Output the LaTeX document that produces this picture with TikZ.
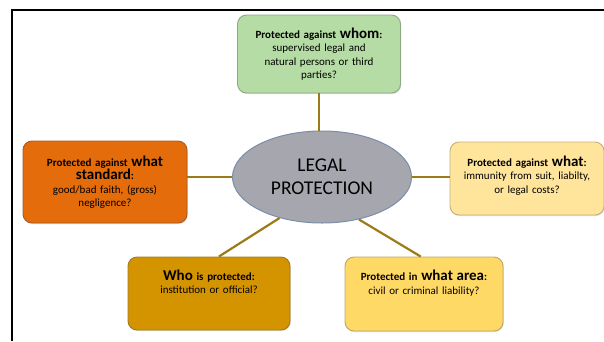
\documentclass[tikz,border=0pt]{standalone}
\usepackage{fontspec}
\setmainfont{Carlito}
\usepackage{tikz}
\usetikzlibrary{shapes.geometric}
\usetikzlibrary{shadows}

\definecolor{whomgreen}{HTML}{B5DCA4}
\definecolor{whomedge}{HTML}{8FA886}
\definecolor{stdorange}{HTML}{E46C0A}
\definecolor{stdedge}{HTML}{A85A24}
\definecolor{whatyellow}{HTML}{FFE49B}
\definecolor{whatedge}{HTML}{C4B07C}
\definecolor{whogold}{HTML}{D49400}
\definecolor{whoedge}{HTML}{9E7A22}
\definecolor{areayellow}{HTML}{FFD966}
\definecolor{areaedge}{HTML}{BEA660}
\definecolor{legalgray}{HTML}{A6A7AE}
\definecolor{legaledge}{HTML}{7B8DAA}
\definecolor{linkgold}{HTML}{9C7B17}

\newcommand{\bigword}[1]{{\fontsize{15}{15}\selectfont #1}}

\begin{document}
\begin{tikzpicture}[x=1pt, y=-1pt,
    box/.style={draw, rounded corners=9pt, line width=0.9pt, align=center, inner sep=4pt,
        font=\fontsize{11}{13.5}\selectfont,
        drop shadow={shadow xshift=0.8pt, shadow yshift=-1pt, opacity=0.25}},
    link/.style={draw=linkgold, line width=2.2pt}]

    \useasboundingbox (0,0) rectangle (604,341);
    \draw[line width=1.6pt] (12,341) -- (12,10) -- (604,10);

    % centre
    \node[ellipse, draw=legaledge, fill=legalgray, line width=1pt, minimum width=179pt, minimum height=92pt,
        inner sep=0pt, align=center, font=\fontsize{19.5}{23}\selectfont] (legal) at (322,177) {LEGAL\\PROTECTION};

    % questions
    \node[box, fill=whomgreen, draw=whomedge, text width=155pt, minimum height=78pt] (whom) at (319,54)
        {\textbf{Protected against \bigword{whom}:}\\supervised legal and\\natural persons or third\\parties?};
    \node[box, fill=stdorange, draw=stdedge, text width=156pt, minimum height=82pt] (standard) at (105,182)
        {\textbf{Protected against \bigword{what}}\\\textbf{\bigword{standard}:}\\good/bad faith, (gross)\\negligence?};
    \node[box, fill=whatyellow, draw=whatedge, text width=146pt, minimum height=73pt] (what) at (527,178.5)
        {\textbf{Protected against \bigword{what}:}\\immunity from suit, liabilty,\\or legal costs?\rule[-8pt]{0pt}{8pt}};
    \node[box, fill=whogold, draw=whoedge, text width=154pt, minimum height=73pt] (who) at (209,293.5)
        {\textbf{\bigword{Who} is protected:}\\institution or official?\rule[-24pt]{0pt}{24pt}};
    \node[box, fill=areayellow, draw=areaedge, text width=150pt, minimum height=74pt] (area) at (424,294)
        {\textbf{Protected in \bigword{what area}:}\\civil or criminal liability?\rule[-24pt]{0pt}{24pt}};

    % connectors
    \draw[link] (whom.south) -- (whom.south |- legal.north);
    \draw[link] (standard.east |- legal.west) -- (legal.west);
    \draw[link] (legal.east) -- (legal.east -| what.west);
    \draw[link] (legal.224) -- (who.75);
    \draw[link] (legal.311) -- (area.95);
\end{tikzpicture}
\end{document}
